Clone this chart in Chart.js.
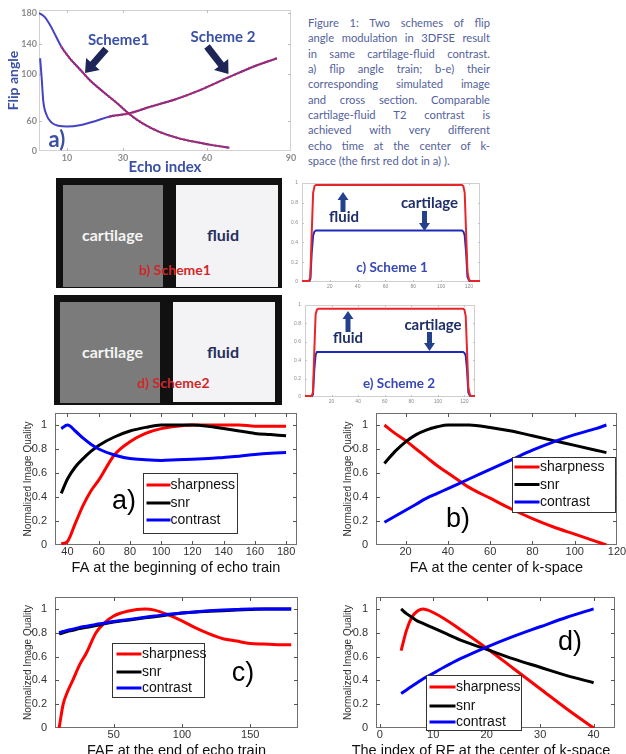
<!DOCTYPE html>
<html><head><meta charset="utf-8">
<script src="https://cdn.jsdelivr.net/npm/chart.js@4.4.1/dist/chart.umd.min.js"></script>
<style>
html,body{margin:0;padding:0;background:#fff;}
body{width:626px;height:754px;overflow:hidden;position:relative;}
canvas{position:absolute;}
.blk{position:absolute;}
.lbl{position:absolute;transform:translate(-50%,-50%);white-space:nowrap;font-family:Lato,"Open Sans",sans-serif;font-weight:bold;line-height:1;}
#cap{position:absolute;left:308px;top:15px;width:182px;font-family:Lato,"Open Sans",sans-serif;font-size:11.2px;line-height:15.35px;color:#53629c;}
#cap div{text-align:justify;text-align-last:justify;}
#cap div.last{text-align:left;text-align-last:left;}
</style></head><body>
<div id="cap"></div>
<script>
// ================= DATA =================
// (a) flip angle train
const flipEchoS1 = [0, 2, 4, 6, 8, 11, 15, 18, 23, 28, 32, 37, 43, 50, 57, 63, 68];
const flipAngleS1 = [180, 175, 164, 150, 136, 121, 105, 93, 77, 62, 49, 36, 25, 16.5, 11, 7, 4.3];
const flipEchoS2 = [0.4, 1, 1.5, 2.7, 4.5, 7, 10, 15, 20.5, 25, 32, 40, 48, 57.5, 67, 76.5, 85];
const flipAngleS2 = [121, 93, 66, 47, 37, 33, 32, 34, 39.5, 44.7, 49, 58, 66.5, 79.5, 95, 110, 121];
const flipXTicks = [10, 30, 60, 90];
const flipYTicks = [0, 39, 100, 140, 180];
const flipYTickLabels = ['0', '60', '100', '140', '180'];

// (c) / (e) cross sections
const profC_x = [0, 5, 6, 7, 8, 9, 10, 30, 60, 90, 115, 116, 117, 118, 119, 120, 121, 128];
const profC_fluid = [0.01, 0.01, 0.05, 0.5, 0.9, 0.97, 0.98, 0.98, 0.98, 0.98, 0.98, 0.97, 0.9, 0.5, 0.1, 0.03, 0.01, 0.01];
const profC_cart = [0, 0, 0.03, 0.3, 0.47, 0.51, 0.52, 0.52, 0.52, 0.52, 0.52, 0.51, 0.47, 0.3, 0.05, 0.02, 0, 0];
const profE_x = [0, 5, 6, 7, 8, 9, 10, 30, 60, 90, 119, 120, 121, 122, 123, 124, 125, 128];
const profE_fluid = [0.01, 0.01, 0.05, 0.5, 0.9, 0.95, 0.96, 0.96, 0.96, 0.96, 0.96, 0.95, 0.88, 0.5, 0.1, 0.03, 0.01, 0.01];
const profE_cart = [0, 0, 0.03, 0.3, 0.46, 0.49, 0.49, 0.49, 0.49, 0.49, 0.49, 0.48, 0.45, 0.3, 0.05, 0.02, 0, 0];
const profXTicks = [20, 40, 60, 80, 100, 120];
const profYTicks = [0, 0.2, 0.4, 0.6, 0.8, 1];
const profYTickLabels = ['0', '0.2', '0.4', '0.6', '0.8', '1'];

// image quality panels
const qualSeries = ['sharpness', 'snr', 'contrast'];
const qualYTicks = [0, 0.2, 0.4, 0.6, 0.8, 1];
const qualYTickLabels = ['0', '0.2', '0.4', '0.6', '0.8', '1'];

const qa_FA = [36, 40, 45, 50, 55, 60, 70, 80, 90, 100, 110, 120, 130, 140, 150, 160, 170, 180];
const qa_sharp = [0.01, 0.03, 0.18, 0.33, 0.45, 0.54, 0.75, 0.86, 0.93, 0.97, 0.99, 1.0, 1.0, 1.0, 1.0, 0.99, 0.99, 0.99];
const qa_snr = [0.43, 0.55, 0.65, 0.72, 0.78, 0.83, 0.90, 0.95, 0.98, 1.0, 1.0, 1.0, 0.99, 0.97, 0.95, 0.93, 0.92, 0.91];
const qa_contrast = [0.97, 1.0, 0.95, 0.89, 0.84, 0.80, 0.75, 0.72, 0.71, 0.705, 0.71, 0.715, 0.72, 0.73, 0.74, 0.755, 0.765, 0.77];
const qaXTicks = [40, 60, 80, 100, 120, 140, 160, 180];

const qb_FA = [10, 15, 20, 25, 30, 35, 40, 45, 50, 60, 70, 80, 90, 100, 110, 115];
const qb_sharp = [1.0, 0.93, 0.87, 0.80, 0.73, 0.66, 0.60, 0.54, 0.48, 0.39, 0.30, 0.22, 0.15, 0.09, 0.03, 0.0];
const qb_snr = [0.68, 0.78, 0.86, 0.92, 0.96, 0.985, 1.0, 1.0, 1.0, 0.98, 0.95, 0.91, 0.87, 0.83, 0.79, 0.77];
const qb_contrast = [0.19, 0.24, 0.29, 0.34, 0.39, 0.43, 0.47, 0.51, 0.55, 0.63, 0.71, 0.79, 0.86, 0.92, 0.97, 1.0];
const qbXTicks = [20, 40, 60, 80, 100, 120];

const qc_FAF = [10, 13, 16, 20, 25, 30, 37, 43, 50, 60, 73, 80, 90, 100, 110, 120, 130, 140, 150, 160, 170, 180];
const qc_sharp = [0.0, 0.2, 0.3, 0.4, 0.53, 0.63, 0.8, 0.88, 0.94, 0.98, 1.0, 0.99, 0.95, 0.90, 0.84, 0.79, 0.75, 0.73, 0.71, 0.705, 0.70, 0.70];
const qc_snr = [0.79, 0.80, 0.81, 0.82, 0.835, 0.845, 0.86, 0.875, 0.89, 0.905, 0.925, 0.935, 0.95, 0.965, 0.975, 0.98, 0.985, 0.99, 0.995, 1.0, 1.0, 1.0];
const qc_contrast = [0.80, 0.81, 0.82, 0.83, 0.845, 0.855, 0.87, 0.88, 0.895, 0.91, 0.93, 0.94, 0.955, 0.965, 0.975, 0.985, 0.99, 0.995, 1.0, 1.0, 1.0, 1.0];
const qcXTicks = [50, 100, 150];

const qd_RF = [4, 5, 6, 7, 8, 9, 10, 12, 15, 20, 25, 30, 35, 40];
const qd_sharp = [0.65, 0.82, 0.93, 0.98, 1.0, 0.99, 0.97, 0.92, 0.83, 0.67, 0.50, 0.33, 0.16, 0.0];
const qd_snr = [1.0, 0.96, 0.93, 0.90, 0.88, 0.86, 0.84, 0.80, 0.74, 0.66, 0.58, 0.51, 0.44, 0.38];
const qd_contrast = [0.29, 0.32, 0.35, 0.38, 0.41, 0.435, 0.46, 0.51, 0.58, 0.68, 0.77, 0.85, 0.93, 1.0];
const qdXTicks = [0, 10, 20, 30, 40];

const captionLines = [
  'Figure 1: Two schemes of flip',
  'angle modulation in 3DFSE result',
  'in same cartilage-fluid contrast.',
  'a) flip angle train; b-e) their',
  'corresponding simulated image',
  'and cross section. Comparable',
  'cartilage-fluid T2 contrast is',
  'achieved with very different',
  'echo time at the center of k-',
  'space (the first red dot in a) ).'
];

// ================= STYLE / HELPERS =================
const FM = '"Liberation Sans", Arial, sans-serif';
const FT = 'Lato, "Open Sans", sans-serif';

const cap = document.getElementById('cap');
captionLines.forEach((t, i) => {
  const d = document.createElement('div');
  d.textContent = t;
  if (i === captionLines.length - 1) d.className = 'last';
  cap.appendChild(d);
});

function blk(l, t, w, h, bg) {
  const d = document.createElement('div');
  d.className = 'blk';
  Object.assign(d.style, {left: l + 'px', top: t + 'px', width: w + 'px', height: h + 'px', background: bg});
  document.body.appendChild(d);
}
function lbl(text, x, y, size, color) {
  const d = document.createElement('div');
  d.className = 'lbl';
  d.textContent = text;
  Object.assign(d.style, {left: x + 'px', top: y + 'px', fontSize: size + 'px', color});
  document.body.appendChild(d);
}

// simulated images b) and d)
blk(56, 178, 226, 110, '#111');
blk(63, 185, 100, 102, '#7b7b7b');
blk(176, 185, 102, 102, '#f3f3f5');
lbl('cartilage', 112.5, 235, 16, '#f4f4f4');
lbl('fluid', 223, 235, 16, '#262e5c');
lbl('b) Scheme1', 175, 269.5, 14, '#d0282a');

blk(54, 295, 228, 110, '#111');
blk(60, 302, 100, 101, '#7b7b7b');
blk(173, 302, 102, 100, '#f3f3f5');
lbl('cartilage', 112.5, 352, 16, '#f4f4f4');
lbl('fluid', 223, 352, 16, '#262e5c');
lbl('d) Scheme2', 173.5, 383, 14, '#d0282a');

function drawArrow(ctx, x1, y1, x2, y2, w, head, hl, color) {
  const dx = x2 - x1, dy = y2 - y1, L = Math.hypot(dx, dy);
  const ux = dx / L, uy = dy / L, nx = -uy, ny = ux;
  const bx = x2 - ux * hl, by = y2 - uy * hl;
  ctx.fillStyle = color;
  ctx.beginPath();
  ctx.moveTo(x1 + nx * w / 2, y1 + ny * w / 2);
  ctx.lineTo(bx + nx * w / 2, by + ny * w / 2);
  ctx.lineTo(bx + nx * head / 2, by + ny * head / 2);
  ctx.lineTo(x2, y2);
  ctx.lineTo(bx - nx * head / 2, by - ny * head / 2);
  ctx.lineTo(bx - nx * w / 2, by - ny * w / 2);
  ctx.lineTo(x1 - nx * w / 2, y1 - ny * w / 2);
  ctx.closePath();
  ctx.fill();
}

const framePlugin = {
  id: 'frame',
  beforeDatasetsDraw(chart, args, o) {
    if (!o || !o.color) return;
    const ctx = chart.ctx, a = chart.chartArea;
    ctx.save();
    if (o.fill) { ctx.fillStyle = o.fill; ctx.fillRect(a.left, a.top, a.right - a.left, a.bottom - a.top); }
    ctx.strokeStyle = o.color; ctx.lineWidth = 1;
    ctx.strokeRect(Math.round(a.left) + 0.5, Math.round(a.top) + 0.5, Math.round(a.right - a.left) - 1, Math.round(a.bottom - a.top) - 1);
    const tl = o.tick || 0;
    if (tl) {
      ctx.strokeStyle = o.tickColor || o.color;
      ctx.beginPath();
      const xs = chart.scales.x, ys = chart.scales.y;
      xs.ticks.forEach(t => {
        const p = Math.round(xs.getPixelForValue(t.value)) + 0.5;
        if (p < a.left + 1 || p > a.right - 1) return;
        ctx.moveTo(p, a.bottom); ctx.lineTo(p, a.bottom - tl);
        ctx.moveTo(p, a.top); ctx.lineTo(p, a.top + tl);
      });
      ys.ticks.forEach(t => {
        const p = Math.round(ys.getPixelForValue(t.value)) + 0.5;
        if (p < a.top + 1 || p > a.bottom - 1) return;
        ctx.moveTo(a.left, p); ctx.lineTo(a.left + tl, p);
        ctx.moveTo(a.right, p); ctx.lineTo(a.right - tl, p);
      });
      ctx.stroke();
    }
    ctx.restore();
  }
};

const overlayPlugin = {
  id: 'overlay',
  afterDraw(chart, args, o) {
    if (!o || !o.items) return;
    const ctx = chart.ctx, ox = o.ox, oy = o.oy;
    o.items.forEach(it => {
      ctx.save();
      if (it.type === 'text') {
        ctx.font = it.font; ctx.fillStyle = it.color;
        ctx.textAlign = it.align || 'center'; ctx.textBaseline = 'middle';
        ctx.fillText(it.text, it.x - ox, it.y - oy);
      } else if (it.type === 'arrow') {
        drawArrow(ctx, it.x1 - ox, it.y1 - oy, it.x2 - ox, it.y2 - oy, it.w, it.head, it.hl, it.color);
      } else if (it.type === 'legend') {
        const x1 = Math.round(it.x1 - ox) + 0.5, y1 = Math.round(it.y1 - oy) + 0.5;
        const w = Math.round(it.x2 - it.x1), h = Math.round(it.y2 - it.y1);
        ctx.fillStyle = '#fff'; ctx.fillRect(x1, y1, w, h);
        ctx.strokeStyle = '#333'; ctx.lineWidth = 1; ctx.strokeRect(x1, y1, w, h);
        ctx.font = it.font; ctx.textAlign = 'left'; ctx.textBaseline = 'middle';
        it.rows.forEach((ry, i) => {
          const ds = chart.data.datasets[i];
          ctx.strokeStyle = ds.borderColor; ctx.lineWidth = 3;
          ctx.beginPath(); ctx.moveTo(it.lx1 - ox, ry - oy); ctx.lineTo(it.lx2 - ox, ry - oy); ctx.stroke();
          ctx.fillStyle = '#111';
          ctx.fillText(ds.label, it.tx - ox, ry - oy + 0.5);
        });
      }
      ctx.restore();
    });
  }
};
Chart.register(framePlugin, overlayPlugin);

function axis(def, m, isX) {
  return {
    type: 'linear', min: def.min, max: def.max,
    grid: {display: false, drawTicks: false},
    border: {display: false},
    afterBuildTicks: s => { s.ticks = def.ticks.map(v => ({value: v})); },
    ticks: {
      autoSkip: false, maxRotation: 0, minRotation: 0,
      padding: def.pad, color: def.color, font: def.font,
      callback: (v, i) => def.labels[i]
    },
    afterFit: s => {
      if (isX) s.height = m.b; else s.width = m.l;
      s.paddingLeft = 0; s.paddingRight = 0; s.paddingTop = 0; s.paddingBottom = 0;
    },
    title: def.title ? {display: true, text: def.title.text, color: def.title.color, font: def.title.font, padding: def.title.padding} : {display: false}
  };
}

function makeChart(rect, m, xDef, yDef, datasets, frame, items) {
  const W = rect.r - rect.l + m.l + m.r, H = rect.b - rect.t + m.t + m.b;
  const ox = rect.l - m.l, oy = rect.t - m.t;
  const cv = document.createElement('canvas');
  cv.width = W; cv.height = H;
  Object.assign(cv.style, {left: ox + 'px', top: oy + 'px', width: W + 'px', height: H + 'px'});
  document.body.appendChild(cv);
  return new Chart(cv.getContext('2d'), {
    type: 'line',
    data: {datasets},
    options: {
      responsive: false, maintainAspectRatio: false, animation: false, devicePixelRatio: 1, events: [],
      layout: {padding: {left: 0, top: m.t, right: m.r, bottom: 0}},
      elements: {point: {radius: 0}, line: {cubicInterpolationMode: 'monotone'}},
      plugins: {legend: {display: false}, tooltip: {enabled: false}, title: {display: false},
        frame: frame, overlay: {ox, oy, items: items || []}},
      scales: {x: axis(xDef, m, true), y: axis(yDef, m, false)}
    }
  });
}
const pts = (xs, ys) => xs.map((v, i) => ({x: v, y: ys[i]}));

// ================= (a) FLIP ANGLE CHART =================
const BLUE_FA = '#4343c4', RED_DOT = '#d0265a';
function flipSets(xs, ys, thr, label) {
  return [
    {label: label + ' dots', data: pts(xs, ys), borderWidth: 2.2, borderDash: [2, 2],
      segment: {borderColor: c => c.p0.parsed.x >= thr ? RED_DOT : 'rgba(0,0,0,0)'}, order: 0},
    {label, data: pts(xs, ys), borderWidth: 2,
      segment: {borderColor: c => c.p0.parsed.x >= thr ? '#5a2f9a' : BLUE_FA}, borderColor: BLUE_FA, order: 1}
  ];
}
const tickGrayFont = {family: FT, size: 9, weight: 'bold'};
makeChart({l: 39, t: 10, r: 291, b: 151}, {l: 39, t: 10, r: 12, b: 25},
  {min: 0, max: 90, ticks: flipXTicks, labels: flipXTicks.map(String), pad: 2, color: '#8c8c8c', font: tickGrayFont,
    title: {text: 'Echo index', color: '#3a50a4', font: {family: FT, size: 15, weight: 'bold'}, padding: {top: 0, bottom: 0}}},
  {min: 0, max: 184, ticks: flipYTicks, labels: flipYTickLabels, pad: 2, color: '#8c8c8c', font: tickGrayFont,
    title: {text: 'Flip angle', color: '#3a50a4', font: {family: FT, size: 14, weight: 'bold'}, padding: {top: 5.5, bottom: 0}}},
  [...flipSets(flipEchoS1, flipAngleS1, 8, 'Scheme1'), ...flipSets(flipEchoS2, flipAngleS2, 25, 'Scheme 2')],
  {color: '#d2d2d2', tick: 3, tickColor: '#bdbdbd'},
  [
    {type: 'text', text: 'Scheme1', x: 118.5, y: 40, font: 'bold 15px ' + FT, color: '#3a50a4'},
    {type: 'text', text: 'Scheme 2', x: 223, y: 37, font: 'bold 15px ' + FT, color: '#3a50a4'},
    {type: 'arrow', x1: 106, y1: 49, x2: 85, y2: 73, w: 7, head: 18, hl: 12, color: '#1d2656'},
    {type: 'arrow', x1: 207, y1: 46.5, x2: 228.5, y2: 74, w: 7, head: 18, hl: 12, color: '#1d2656'},
    {type: 'text', text: 'a)', x: 57, y: 140, font: 'bold 22px ' + FT, color: '#3a50a4'}
  ]);

// ================= (c) (e) CROSS SECTIONS =================
function profChart(rect, xs, fluid, cart, items) {
  const tf = {family: FM, size: 5};
  return makeChart(rect, {l: 16, t: 4, r: 8, b: 10},
    {min: 0, max: 128, ticks: profXTicks, labels: profXTicks.map(String), pad: 2, color: '#8a8a8a', font: tf},
    {min: 0, max: 1, ticks: profYTicks, labels: profYTickLabels, pad: 4, color: '#8a8a8a', font: tf},
    [
      {label: 'fluid', data: pts(xs, fluid), borderColor: '#e8262a', borderWidth: 2, cubicInterpolationMode: 'default', tension: 0, order: 0},
      {label: 'cartilage', data: pts(xs, cart), borderColor: '#1d2bb8', borderWidth: 2, cubicInterpolationMode: 'default', tension: 0, order: 1}
    ],
    {color: '#cfcfcf', tick: 2, tickColor: '#c4c4c4'}, items);
}
const NAVY_T = '#1f2f6a', NAVY_A = '#24418c';
profChart({l: 302, t: 183, r: 480, b: 282}, profC_x, profC_fluid, profC_cart, [
  {type: 'arrow', x1: 343, y1: 212, x2: 343, y2: 192, w: 5, head: 11, hl: 8, color: NAVY_A},
  {type: 'text', text: 'fluid', x: 344, y: 217, font: 'bold 15px ' + FT, color: NAVY_T},
  {type: 'text', text: 'cartilage', x: 429.5, y: 203, font: 'bold 15px ' + FT, color: NAVY_T},
  {type: 'arrow', x1: 424.5, y1: 211, x2: 424.5, y2: 231, w: 5, head: 11, hl: 8, color: NAVY_A},
  {type: 'text', text: 'c) Scheme 1', x: 392, y: 268, font: 'bold 13.5px ' + FT, color: '#3848b4'}
]);
profChart({l: 305, t: 305, r: 475, b: 397}, profE_x, profE_fluid, profE_cart, [
  {type: 'arrow', x1: 348, y1: 332, x2: 348, y2: 311, w: 5, head: 11, hl: 8, color: NAVY_A},
  {type: 'text', text: 'fluid', x: 348, y: 338.5, font: 'bold 15px ' + FT, color: NAVY_T},
  {type: 'text', text: 'cartilage', x: 433, y: 325, font: 'bold 15px ' + FT, color: NAVY_T},
  {type: 'arrow', x1: 429.5, y1: 332, x2: 429.5, y2: 351, w: 5, head: 11, hl: 8, color: NAVY_A},
  {type: 'text', text: 'e) Scheme 2', x: 399, y: 383.5, font: 'bold 13.5px ' + FT, color: '#3848b4'}
]);

// ================= IMAGE QUALITY PANELS =================
const QCOL = ['#ff0000', '#000000', '#0000ff'];
function qualSets(xs, s, n, c) {
  return [s, n, c].map((ys, i) => ({label: qualSeries[i], data: pts(xs, ys), borderColor: QCOL[i], borderWidth: 3, order: 2 - i}));
}
const tickF = {family: FM, size: 11};
const yTitle = pt => ({text: 'Normalized Image Quality', color: '#333', font: {family: FM, size: 10}, padding: {top: pt, bottom: 0}});
const xTitle = (t) => ({text: t, color: '#111', font: {family: FM, size: 14.5}, padding: {top: 0, bottom: 1}});
const qFrame = {color: '#707070', tick: 4, tickColor: '#555'};
const legFont = '14px ' + FM;
const panelFont = '27px ' + FM;

makeChart({l: 55, t: 413, r: 297, b: 545}, {l: 55, t: 8, r: 14, b: 33},
  {min: 32, max: 187, ticks: qaXTicks, labels: qaXTicks.map(String), pad: 0, color: '#333', font: tickF, title: xTitle('FA at the beginning of echo train')},
  {min: 0, max: 1.1, ticks: qualYTicks, labels: qualYTickLabels, pad: 8, color: '#333', font: tickF, title: yTitle(22)},
  qualSets(qa_FA, qa_sharp, qa_snr, qa_contrast), qFrame,
  [
    {type: 'legend', x1: 143, y1: 473, x2: 237, y2: 533, rows: [485, 503, 520], lx1: 146.5, lx2: 170.5, tx: 170.5, font: legFont},
    {type: 'text', text: 'a)', x: 124, y: 502, font: panelFont, color: '#000'}
  ]);

makeChart({l: 376, t: 413, r: 617, b: 545}, {l: 60, t: 8, r: 9, b: 33},
  {min: 6, max: 120, ticks: qbXTicks, labels: qbXTicks.map(String), pad: 0, color: '#333', font: tickF, title: xTitle('FA at the center of k-space')},
  {min: 0, max: 1.1, ticks: qualYTicks, labels: qualYTickLabels, pad: 8, color: '#333', font: tickF, title: yTitle(26)},
  qualSets(qb_FA, qb_sharp, qb_snr, qb_contrast), qFrame,
  [
    {type: 'legend', x1: 512, y1: 457, x2: 615, y2: 512, rows: [467, 484.5, 502], lx1: 514.5, lx2: 539.5, tx: 540, font: legFont},
    {type: 'text', text: 'b)', x: 458, y: 520, font: panelFont, color: '#000'}
  ]);

makeChart({l: 55, t: 597, r: 298, b: 728}, {l: 55, t: 8, r: 14, b: 33},
  {min: 7, max: 185, ticks: qcXTicks, labels: qcXTicks.map(String), pad: 0, color: '#333', font: tickF, title: xTitle('FAF at the end of echo train')},
  {min: 0, max: 1.1, ticks: qualYTicks, labels: qualYTickLabels, pad: 8, color: '#333', font: tickF, title: yTitle(22)},
  qualSets(qc_FAF, qc_sharp, qc_snr, qc_contrast), qFrame,
  [
    {type: 'legend', x1: 112, y1: 643, x2: 204, y2: 697, rows: [654, 672, 688], lx1: 116.5, lx2: 141.5, tx: 142, font: legFont},
    {type: 'text', text: 'c)', x: 243, y: 674, font: panelFont, color: '#000'}
  ]);

makeChart({l: 376, t: 597, r: 615, b: 728}, {l: 60, t: 8, r: 11, b: 33},
  {min: -0.7, max: 44, ticks: qdXTicks, labels: qdXTicks.map(String), pad: 0, color: '#333', font: tickF},
  {min: 0, max: 1.1, ticks: qualYTicks, labels: qualYTickLabels, pad: 8, color: '#333', font: tickF, title: yTitle(26)},
  qualSets(qd_RF, qd_sharp, qd_snr, qd_contrast), qFrame,
  [
    {type: 'legend', x1: 426, y1: 675, x2: 521, y2: 730, rows: [687, 706, 722], lx1: 429.5, lx2: 455.5, tx: 456, font: legFont},
    {type: 'text', text: 'd)', x: 570, y: 643, font: panelFont, color: '#000'},
    {type: 'text', text: 'The index of RF at the center of k-space', x: 481, y: 750.5, font: '14.5px ' + FM, color: '#111'}
  ]);
</script>
</body></html>
